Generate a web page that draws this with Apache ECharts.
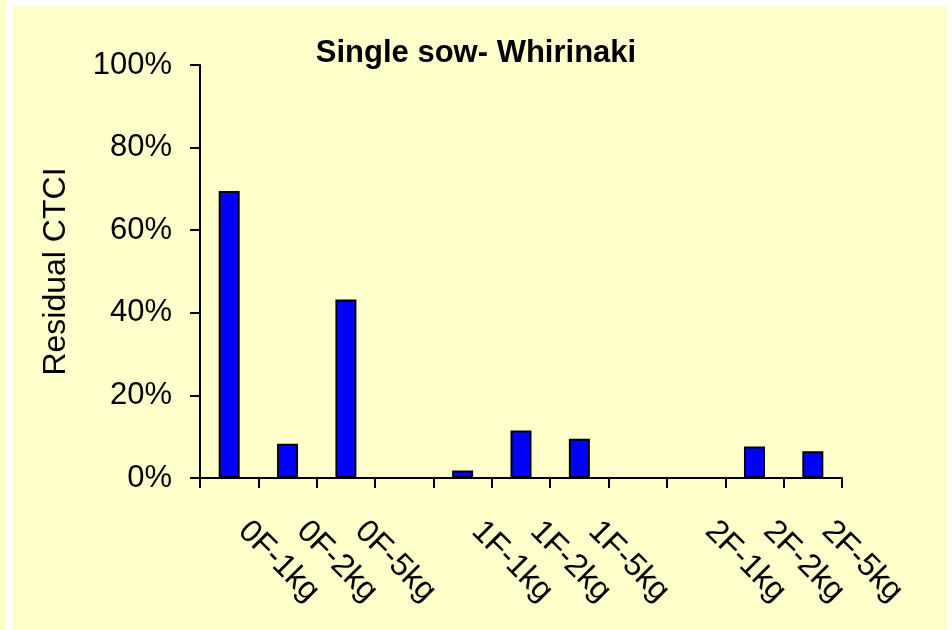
<!DOCTYPE html>
<html>
<head>
<meta charset="utf-8">
<script src="https://cdn.jsdelivr.net/npm/echarts@6/dist/echarts.min.js"></script>
<style>
html,body{margin:0;padding:0;background:#ffffff;}
#chart{width:952px;height:630px;}
</style>
</head>
<body>
<div id="chart"></div>
<script>
var titleText = 'Single sow- Whirinaki';
var yAxisName = 'Residual CTCI';
var categories = ['0F-1kg', '0F-2kg', '0F-5kg', '', '1F-1kg', '1F-2kg', '1F-5kg', '', '2F-1kg', '2F-2kg', '2F-5kg'];
var residual = [69.5, 8.3, 43.2, null, 1.8, 11.5, 9.5, null, null, 7.6, 6.5];
var yTicks = [0, 20, 40, 60, 80, 100];

var chart = echarts.init(document.getElementById('chart'), null, {renderer: 'canvas'});
var font = 'Liberation Sans, Arial, sans-serif';
chart.setOption({
  backgroundColor: '#ffffff',
  animation: false,
  graphic: [
    {type: 'rect', shape: {x: 13, y: 6, width: 934, height: 624}, style: {fill: '#FFFFCC'}, z: -10, silent: true},
    {type: 'rect', shape: {x: 0, y: 0, width: 6, height: 630}, style: {fill: '#FFFFCC'}, z: -10, silent: true}
  ],
  title: {
    text: titleText,
    left: 'center',
    top: 33,
    textStyle: {fontFamily: font, fontSize: 31, fontWeight: 'bold', color: '#000000'}
  },
  grid: {left: 200, right: 110, top: 65, bottom: 152, containLabel: false},
  xAxis: {
    type: 'category',
    data: categories,
    boundaryGap: true,
    axisLine: {lineStyle: {color: '#000000', width: 2}},
    axisTick: {show: true, length: 10, inside: false, alignWithLabel: false, lineStyle: {color: '#000000', width: 2}},
    axisLabel: {
      interval: 0,
      rotate: -45,
      margin: 34,
      padding: [0, 0, 0, 20],
      fontFamily: font,
      fontSize: 32,
      color: '#000000'
    },
    splitLine: {show: false}
  },
  yAxis: {
    type: 'value',
    min: yTicks[0],
    max: yTicks[yTicks.length - 1],
    interval: yTicks[1] - yTicks[0],
    name: yAxisName,
    nameLocation: 'middle',
    nameRotate: 90,
    nameGap: 128,
    nameTextStyle: {fontFamily: font, fontSize: 32, color: '#000000'},
    axisLine: {show: true, lineStyle: {color: '#000000', width: 2}},
    axisTick: {show: true, length: 10, inside: false, lineStyle: {color: '#000000', width: 2}},
    axisLabel: {
      margin: 28,
      fontFamily: font,
      fontSize: 31,
      color: '#000000',
      formatter: '{value}%'
    },
    splitLine: {show: false}
  },
  series: [{
    type: 'bar',
    data: residual,
    barWidth: 21,
    itemStyle: {color: '#0000FF', borderColor: '#000000', borderWidth: 2}
  }]
});
</script>
</body>
</html>
